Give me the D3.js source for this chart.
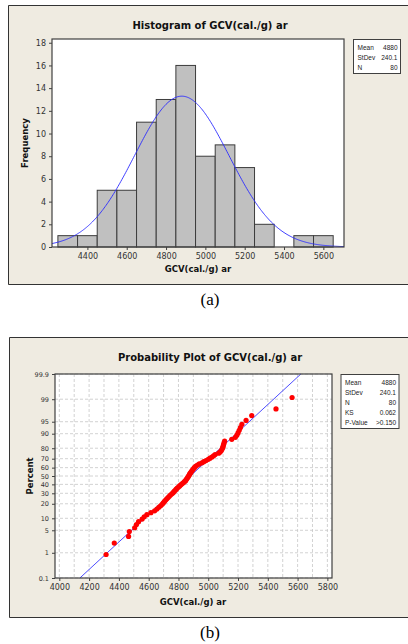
<!DOCTYPE html>
<html>
<head>
<meta charset="utf-8">
<script src="https://cdn.jsdelivr.net/npm/d3@7"></script>
<style>
body{margin:0;background:#fff;overflow:hidden;}
svg{display:block;}
text{font-family:"DejaVu Sans",Verdana,sans-serif;}
</style>
</head>
<body>
<div id="chart"></div>
<script>
// histogram bins (width 100) and counts
const binStarts = [4250,4350,4450,4550,4650,4750,4850,4950,5050,5150,5250,5350,5450,5550];
const binCounts = [1,1,5,5,11,13,16,8,9,7,2,0,1,1];

const gcvValues = [
  4314,
  4369,
  4465,4470,4506,4518,4532,
  4556,4570,4588,4615,4640,
  4655,4668,4680,4690,4698,4706,4714,4722,4730,4738,4746,
  4756,4764,4771,4778,4785,4792,4800,4808,4816,4824,4832,4840,4848,
  4852,4857,4862,4866,4870,4874,4878,4883,4888,4893,4898,4904,4910,4918,4928,4940,
  4958,4970,4985,5000,5012,5025,5036,5046,
  5070,5080,5088,5093,5097,5100,5103,5106,5110,
  5158,5182,5192,5200,5208,5216,5226,
  5254,5292,
  5455,
  5563
];

const statMean = 4880, statSd = 240.1, statN = 80;
const histLegLabels = ["Mean","StDev","N"];
const histLegValues = ["4880","240.1","80"];
const probLegLabels = ["Mean","StDev","N","KS","P-Value"];
const probLegValues = ["4880","240.1","80","0.062",">0.150"];

const freqTicks = [0,2,4,6,8,10,12,14,16,18];
const histXTicks = [4400,4600,4800,5000,5200,5400,5600];
const probXTicks = [4000,4200,4400,4600,4800,5000,5200,5400,5600,5800];
const probGridX = d3.range(4000,5801,100);
const pctTicks = [0.1,1,5,10,20,30,40,50,60,70,80,90,95,99,99.9];

const W = 408, H = 644;
const bg = "#efebe1", axisCol = "#404040";

// inverse normal cdf (Acklam)
function qnorm(p){
  const a=[-39.69683028665376,220.9460984245205,-275.9285104469687,138.3577518672690,-30.66479806614716,2.506628277459239];
  const b=[-54.47609879822406,161.5858368580409,-155.6989798598866,66.80131188771972,-13.28068155288572];
  const c=[-0.007784894002430293,-0.3223964580411365,-2.400758277161838,-2.549732539343734,4.374664141464968,2.938163982698783];
  const d=[0.007784695709041462,0.3224671290700398,2.445134137142996,3.754408661907416];
  const pl=0.02425;
  let q,r;
  if(p<pl){q=Math.sqrt(-2*Math.log(p));return (((((c[0]*q+c[1])*q+c[2])*q+c[3])*q+c[4])*q+c[5])/((((d[0]*q+d[1])*q+d[2])*q+d[3])*q+1);}
  if(p>1-pl){q=Math.sqrt(-2*Math.log(1-p));return -(((((c[0]*q+c[1])*q+c[2])*q+c[3])*q+c[4])*q+c[5])/((((d[0]*q+d[1])*q+d[2])*q+d[3])*q+1);}
  q=p-0.5;r=q*q;
  return (((((a[0]*r+a[1])*r+a[2])*r+a[3])*r+a[4])*r+a[5])*q/(((((b[0]*r+b[1])*r+b[2])*r+b[3])*r+b[4])*r+1);
}

const svg = d3.select("#chart").append("svg")
  .attr("width", W).attr("height", H);

function styleAxis(g, fs){
  g.selectAll(".domain").remove();
  g.selectAll(".tick line").attr("stroke", axisCol);
  g.selectAll(".tick text").attr("fill", "#333").style("font-size", fs+"px");
}

// beige panel, framed on left, top and bottom only (cut at page edge)
function panel(x, y, h){
  svg.append("rect").attr("x",x).attr("y",y).attr("width",W-x).attr("height",h)
    .attr("fill",bg);
  svg.append("path")
    .attr("d", `M${W},${y+0.5}H${x+0.5}V${y+h-0.5}H${W}`)
    .attr("fill","none").attr("stroke","#333").attr("stroke-width",1);
}

function legend(x, y, w, labels, values){
  const h = labels.length*10 + 4;
  svg.append("rect").attr("x",x).attr("y",y).attr("width",w).attr("height",h)
    .attr("fill","#fff").attr("stroke",axisCol).attr("stroke-width",1);
  labels.forEach((l,i)=>{
    svg.append("text").attr("x",x+4).attr("y",y+10+i*10).text(l)
      .style("font-family","'Liberation Sans',Arial,sans-serif")
      .style("font-size","6.5px").attr("fill","#222");
    svg.append("text").attr("x",x+w-3).attr("y",y+10+i*10).text(values[i])
      .style("font-family","'Liberation Sans',Arial,sans-serif")
      .attr("text-anchor","end").style("font-size","6.5px").attr("fill","#222");
  });
}

// ---------- panel (a): histogram ----------
panel(8, 5, 280);

const hx = d3.scaleLinear().domain([4220,5705]).range([52,344]);
const hy = d3.scaleLinear().domain([0,18.33]).range([247,39]);

svg.append("rect").attr("x",52).attr("y",39).attr("width",292).attr("height",208)
  .attr("fill","#fff");

svg.append("g").selectAll("rect").data(binStarts).enter().append("rect")
  .attr("x", d=>hx(d))
  .attr("y", (d,i)=>hy(binCounts[i]))
  .attr("width", d=>hx(d+100)-hx(d))
  .attr("height", (d,i)=>hy(0)-hy(binCounts[i]))
  .attr("fill", "#c0c0c0")
  .attr("stroke", "#3c3c3c")
  .attr("stroke-width", 1)
  .style("display", (d,i)=>binCounts[i]>0?null:"none");

// fitted normal curve
const curveX = d3.range(4220,5706,5);
const pdf = x => statN*100/(statSd*Math.sqrt(2*Math.PI))*Math.exp(-0.5*Math.pow((x-statMean)/statSd,2));
svg.append("path").datum(curveX)
  .attr("d", d3.line().x(d=>hx(d)).y(d=>hy(pdf(d))))
  .attr("fill","none").attr("stroke","#2a2aff").attr("stroke-width",0.9);

svg.append("rect").attr("x",52).attr("y",39).attr("width",292).attr("height",208)
  .attr("fill","none").attr("stroke",axisCol).attr("stroke-width",1.2);

svg.append("g").attr("transform","translate(0,247)")
  .call(d3.axisBottom(hx).tickValues(histXTicks).tickFormat(d3.format("d")).tickSize(3).tickSizeOuter(0))
  .call(g=>styleAxis(g,8));
svg.append("g").attr("transform","translate(52,0)")
  .call(d3.axisLeft(hy).tickValues(freqTicks).tickSize(3).tickSizeOuter(0))
  .call(g=>styleAxis(g,8));

svg.append("text").attr("x",210).attr("y",29).attr("text-anchor","middle")
  .style("font-size","10px").style("font-weight","bold").attr("fill","#111")
  .text("Histogram of GCV(cal./g) ar");
svg.append("text").attr("x",198).attr("y",272).attr("text-anchor","middle")
  .style("font-size","8.5px").style("font-weight","bold").attr("fill","#111")
  .text("GCV(cal./g) ar");
svg.append("text").attr("transform","translate(28,143) rotate(-90)").attr("text-anchor","middle")
  .style("font-size","8.5px").style("font-weight","bold").attr("fill","#111")
  .text("Frequency");

legend(353.5, 39.5, 47, histLegLabels, histLegValues);

svg.append("text").attr("x",210).attr("y",305).attr("text-anchor","middle")
  .style("font-family","'Liberation Serif','DejaVu Serif',serif").style("font-size","17px")
  .text("(a)");

// ---------- panel (b): probability plot ----------
panel(9, 337, 281);

const px = d3.scaleLinear().domain([3971,5831]).range([55,332]);
const pz = d3.scaleLinear().domain([qnorm(0.001),qnorm(0.999)]).range([578,374]);
const py = p => pz(qnorm(p/100));

svg.append("rect").attr("x",55).attr("y",374).attr("width",277).attr("height",204)
  .attr("fill","#fff");

const grid = svg.append("g").attr("stroke","#c6c6c6").attr("stroke-width",0.8)
  .attr("stroke-dasharray","3,2");
grid.selectAll("line.gx").data(probGridX).enter().append("line")
  .attr("x1",d=>px(d)).attr("x2",d=>px(d)).attr("y1",374).attr("y2",578);
grid.selectAll("line.gy").data(pctTicks).enter().append("line")
  .attr("x1",55).attr("x2",332).attr("y1",d=>py(d)).attr("y2",d=>py(d));

// fitted line
const lineP = [0.1, 99.9];
svg.append("path").datum(lineP)
  .attr("d", d3.line().x(d=>px(statMean+qnorm(d/100)*statSd)).y(d=>py(d)))
  .attr("stroke","#3a3aff").attr("stroke-width",0.9).attr("fill","none");

const nObs = gcvValues.length;
svg.append("g").selectAll("circle").data(gcvValues).enter().append("circle")
  .attr("cx", d=>px(d))
  .attr("cy", (d,i)=>py((i+1-0.3)/(nObs+0.4)*100))
  .attr("r", 2.6)
  .attr("fill", "#ff0000");

svg.append("rect").attr("x",55).attr("y",374).attr("width",277).attr("height",204)
  .attr("fill","none").attr("stroke",axisCol).attr("stroke-width",1.2);

svg.append("g").attr("transform","translate(0,578)")
  .call(d3.axisBottom(px).tickValues(probXTicks).tickFormat(d3.format("d")).tickSize(3).tickSizeOuter(0))
  .call(g=>styleAxis(g,8));
svg.append("g").attr("transform","translate(55,0)")
  .call(d3.axisLeft(pz).tickValues(pctTicks.map(p=>qnorm(p/100))).tickSize(3).tickSizeOuter(0)
    .tickFormat((d,i)=>String(pctTicks[i])))
  .call(g=>styleAxis(g,6.5));

svg.append("text").attr("x",210).attr("y",361).attr("text-anchor","middle")
  .style("font-size","10px").style("font-weight","bold").attr("fill","#111")
  .text("Probability Plot of GCV(cal./g) ar");
svg.append("text").attr("x",193).attr("y",605).attr("text-anchor","middle")
  .style("font-size","8.5px").style("font-weight","bold").attr("fill","#111")
  .text("GCV(cal./g) ar");
svg.append("text").attr("transform","translate(33,476) rotate(-90)").attr("text-anchor","middle")
  .style("font-size","8.5px").style("font-weight","bold").attr("fill","#111")
  .text("Percent");

legend(341, 374.5, 58, probLegLabels, probLegValues);

svg.append("text").attr("x",210).attr("y",638).attr("text-anchor","middle")
  .style("font-family","'Liberation Serif','DejaVu Serif',serif").style("font-size","17px")
  .text("(b)");
</script>
</body>
</html>
